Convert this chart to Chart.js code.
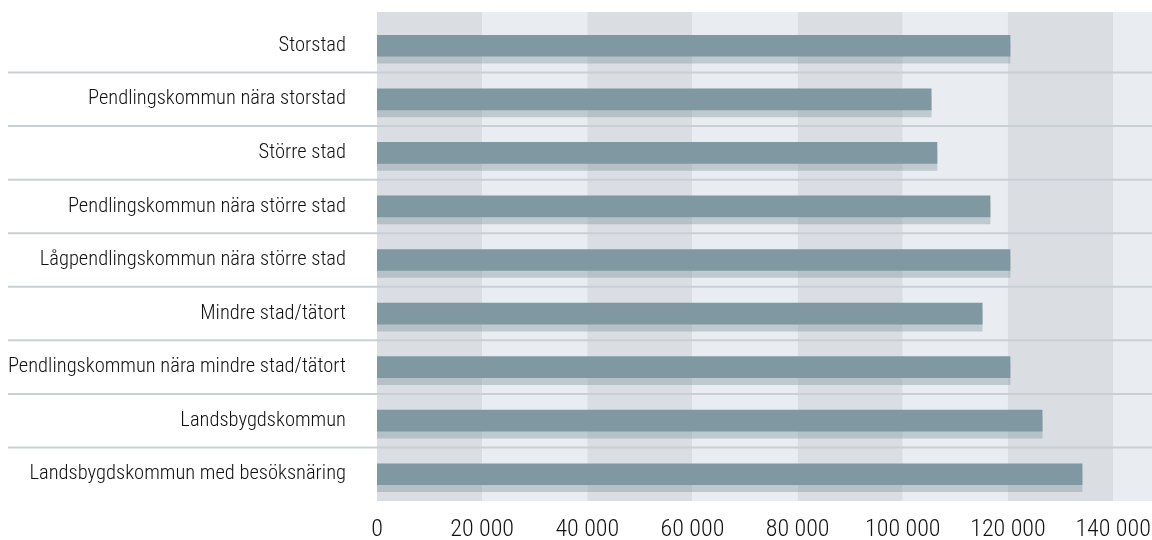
<!DOCTYPE html>
<html>
<head>
<meta charset="utf-8">
<script src="https://cdn.jsdelivr.net/npm/chart.js@4"></script>
<style>
  body { margin: 0; background: #fff; }
</style>
</head>
<body>
<canvas id="chart" width="1152" height="540"></canvas>
<script>
// data
const categories = [
    'Storstad',
    'Pendlingskommun nära storstad',
    'Större stad',
    'Pendlingskommun nära större stad',
    'Lågpendlingskommun nära större stad',
    'Mindre stad/tätort',
    'Pendlingskommun nära mindre stad/tätort',
    'Landsbygdskommun',
    'Landsbygdskommun med besöksnäring'
];
const values = [120400, 105400, 106500, 116600, 120400, 115100, 120400, 126500, 134100];
const xTicks = [0, 20000, 40000, 60000, 80000, 100000, 120000, 140000];
const xMax = 147400;

const labelFont = "'Roboto Condensed', 'Liberation Sans Narrow', sans-serif";

// alternating vertical bands + row separators
const backdrop = {
    id: 'backdrop',
    beforeDatasetsDraw(chart) {
        const { ctx, chartArea, scales } = chart;
        const x = scales.x, y = scales.y;
        ctx.save();
        for (let i = 0; i < xTicks.length; i++) {
            const x0 = x.getPixelForValue(xTicks[i]);
            const x1 = x.getPixelForValue(i + 1 < xTicks.length ? xTicks[i + 1] : xMax);
            ctx.fillStyle = i % 2 === 0 ? '#dadde2' : '#e9ecf0';
            ctx.fillRect(x0, chartArea.top - 7, x1 - x0, chartArea.bottom - chartArea.top + 7);
        }
        ctx.strokeStyle = '#c8d0d6';
        ctx.lineWidth = 2;
        for (let i = 0; i < categories.length - 1; i++) {
            const yy = (y.getPixelForValue(i) + y.getPixelForValue(i + 1)) / 2;
            ctx.beginPath();
            ctx.moveTo(8, yy);
            ctx.lineTo(chart.width, yy);
            ctx.stroke();
        }
        ctx.restore();
        // drop shadow under the bars
        ctx.save();
        ctx.shadowColor = 'rgba(127, 152, 161, 0.4)';
        ctx.shadowOffsetY = 7;
        ctx.shadowBlur = 0;
    },
    afterDatasetsDraw(chart) {
        chart.ctx.restore();
    }
};

const noPad = scale => {
    scale.paddingTop = 0;
    scale.paddingBottom = 0;
    scale.paddingLeft = 0;
    scale.paddingRight = 0;
};

new Chart(document.getElementById('chart'), {
    type: 'bar',
    data: {
        labels: categories,
        datasets: [{
            data: values,
            backgroundColor: '#7f98a1',
            barThickness: 21
        }]
    },
    options: {
        indexAxis: 'y',
        responsive: false,
        animation: false,
        layout: { padding: { top: 19, right: 0, left: 0, bottom: 0 } },
        plugins: {
            legend: { display: false },
            tooltip: { enabled: false }
        },
        scales: {
            x: {
                min: 0,
                max: xMax,
                grid: { display: false },
                border: { display: false },
                afterBuildTicks: scale => {
                    scale.ticks = xTicks.map(v => ({ value: v }));
                },
                afterFit: scale => { scale.height = 39; noPad(scale); },
                ticks: {
                    color: '#111',
                    padding: 7,
                    font: { family: labelFont, size: 24, weight: '300' },
                    callback: v => v.toLocaleString('sv-SE').replace(/\s/g, ' ')
                }
            },
            y: {
                grid: { display: false, drawTicks: false },
                border: { display: false },
                afterFit: scale => { scale.width = 377; noPad(scale); },
                ticks: {
                    color: '#111',
                    padding: 31,
                    font: { family: labelFont, size: 20.5, weight: '300' }
                }
            }
        }
    },
    plugins: [backdrop]
});
</script>
</body>
</html>
